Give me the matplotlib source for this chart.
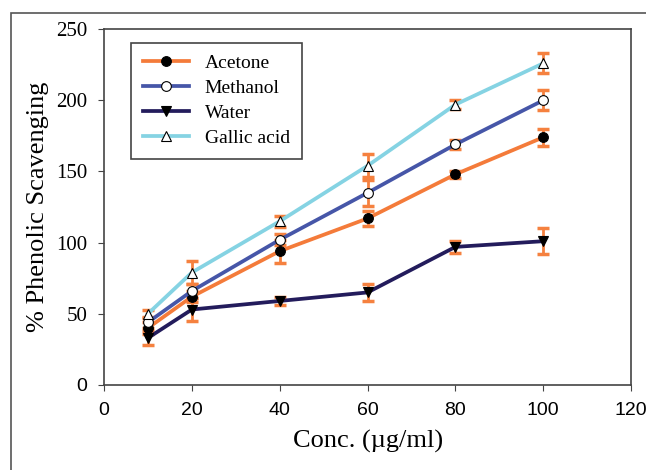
import matplotlib.pyplot as plt
from matplotlib.patches import Rectangle

conc = [10, 20, 40, 60, 80, 100]

acetone = [40, 62, 94, 117, 148, 174]
acetone_err = [4, 4, 8, 5.5, 2.5, 6]
methanol = [44, 66, 102, 135, 169, 200]
methanol_err = [4, 5, 4, 9, 3, 7]
water = [33, 53, 59, 65, 97, 101]
water_err = [5, 8, 3, 6, 4, 9]
gallic = [50, 79, 115, 154, 197, 226]
gallic_err = [3, 8, 4, 8, 3, 7]

err_color = '#F5813F'

fig = plt.figure(figsize=(6.46, 4.70), dpi=100)
ax = fig.add_axes([0.161, 0.181, 0.816, 0.757])

# outer frame of the original figure
fig.patches.append(Rectangle((11 / 646, -0.1), 1.2, 1 - 13 / 470 + 0.1,
                             transform=fig.transFigure, fill=False,
                             edgecolor='#555555', linewidth=1.2))

series = [
    ('Acetone', acetone, acetone_err, '#F47B3A', 'o', 'black'),
    ('Methanol', methanol, methanol_err, '#4656A8', 'o', 'white'),
    ('Water', water, water_err, '#231C5C', 'v', 'black'),
    ('Gallic acid', gallic, gallic_err, '#85D3E3', '^', 'white'),
]

for name, vals, errs, col, mk, mfc in series:
    ax.errorbar(conc, vals, yerr=errs, fmt='none', ecolor=err_color,
                elinewidth=2, capsize=4.5, capthick=2.5, zorder=2)

for name, vals, errs, col, mk, mfc in series:
    ax.plot(conc, vals, color=col, linewidth=2.7, marker=mk, markersize=7,
            markerfacecolor=mfc, markeredgecolor='black', markeredgewidth=0.8,
            label=name, zorder=3)

ax.set_xlim(0, 120)
ax.set_ylim(0, 250)
ax.set_xticks(range(0, 121, 20))
ax.set_yticks(range(0, 251, 50))
ax.tick_params(direction='out', length=4, color='#444444', labelsize=14)
ax.tick_params(axis='x', pad=8)
ax.tick_params(axis='y', pad=8)
for lab in ax.get_xticklabels():
    lab.set_family('Liberation Sans')
for lab in ax.get_yticklabels():
    if lab.get_text() == '0':
        lab.set_family('Liberation Sans')
    else:
        lab.set_family('Liberation Serif')
        lab.set_fontsize(15)

for s in ax.spines.values():
    s.set_color('#444444')
    s.set_linewidth(1.2)

ax.set_xlabel('Conc. (\u00b5g/ml)', family='Liberation Serif', fontsize=19, labelpad=8)
ax.set_ylabel('% Phenolic Scavenging', family='Liberation Serif', fontsize=19, labelpad=5)

leg = ax.legend(loc='upper left', bbox_to_anchor=(0.051, 0.961), borderaxespad=0,
                frameon=True, fancybox=False, edgecolor='#444444', framealpha=1,
                prop={'family': 'Liberation Serif', 'size': 14},
                handlelength=2.4, borderpad=0.6, labelspacing=0.38)
leg.get_frame().set_linewidth(1.2)

fig.savefig('out.png', dpi=100)
